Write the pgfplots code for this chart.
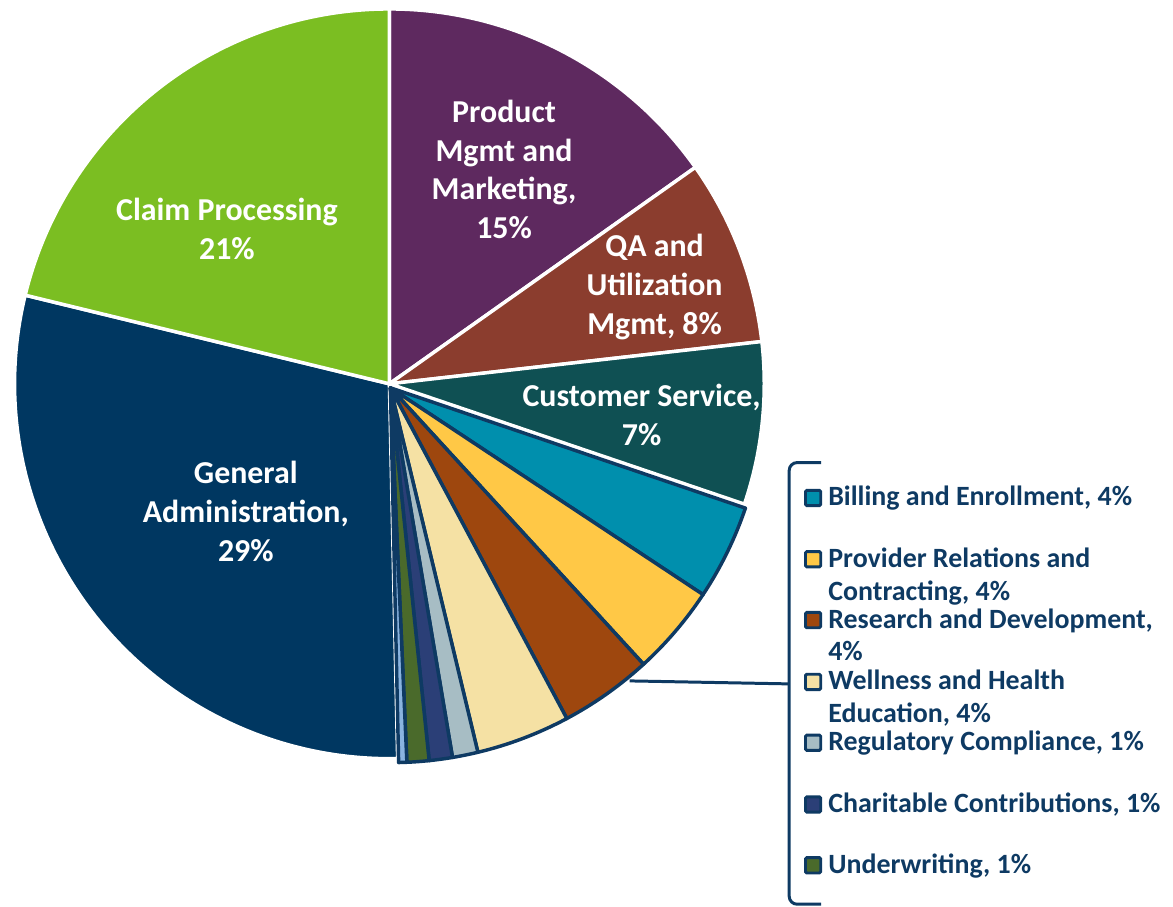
\documentclass[border=0pt]{standalone}
\usepackage{pgfplots}
\pgfplotsset{compat=1.18}
\usepackage{pgfplotstable}
\usepackage{fontspec}
\setmainfont{Carlito}

\definecolor{cClaim}{HTML}{7BBE22}
\definecolor{cProd}{HTML}{5E295F}
\definecolor{cQA}{HTML}{8B3D2E}
\definecolor{cCust}{HTML}{0F5053}
\definecolor{cBill}{HTML}{008FAD}
\definecolor{cProv}{HTML}{FFC846}
\definecolor{cRD}{HTML}{9E470E}
\definecolor{cWell}{HTML}{F5E1A4}
\definecolor{cReg}{HTML}{A7BDC4}
\definecolor{cChar}{HTML}{2B3F77}
\definecolor{cUnd}{HTML}{4A6A2B}
\definecolor{cOth}{HTML}{8AB4E0}
\definecolor{cGen}{HTML}{003761}
\definecolor{navy}{HTML}{0E3A63}

% share of admin cost in %, clockwise from 12 o'clock; edge=1 -> navy outline
\pgfplotstableread{
share  colour edge
15.2   cProd  0
8.0    cQA    0
7.0    cCust  0
4.1    cBill  1
3.9    cProv  1
4.0    cRD    1
4.05   cWell  1
1.1    cReg   1
1.0    cChar  1
0.95   cUnd   1
0.35   cOth   1
29.15  cGen   0
21.2   cClaim 0
}\piedata

% one wedge: start %, end %, fill, outline, centre
\newcommand\pieslice[5]{%
  \pgfmathsetmacro\aA{90-3.6*#1}%
  \pgfmathsetmacro\aB{90-3.6*#2}%
  \edef\doslice{\noexpand\filldraw[fill=#3,draw=#4,line width=2.6pt,line join=round]
    (axis cs:#5) -- ++(\aA:282pt) arc[start angle=\aA,end angle=\aB,radius=282pt] -- cycle;}%
  \doslice}

\newcommand\lbl{\fontsize{24}{29.25}\selectfont\bfseries}
\newcommand\leg{\fontsize{21}{24.75}\selectfont\bfseries\color{navy}}

\begin{document}
\begin{tikzpicture}
\begin{axis}[
    hide axis,
    x=0.75pt, y=0.75pt,
    xmin=0, xmax=1173, ymin=0, ymax=909,
    clip=false,
  ]
  % keep the whole canvas in the bounding box
  \path (axis cs:0,0) rectangle (axis cs:1173,909);

  \pgfplotstablegetrowsof{\piedata}
  \pgfmathtruncatemacro\lastrow{\pgfplotsretval-1}
  % pass 0: big wedges with white edges, pass 1: small ones, nudged out, navy edges
  \pgfplotsforeachungrouped \pass in {0,1}{%
    \def\cum{0}%
    \pgfplotsforeachungrouped \i in {0,...,\lastrow}{%
      \pgfplotstablegetelem{\i}{share}\of\piedata \let\v\pgfplotsretval
      \pgfplotstablegetelem{\i}{colour}\of\piedata \let\fc\pgfplotsretval
      \pgfplotstablegetelem{\i}{edge}\of\piedata \let\ec\pgfplotsretval
      \let\cA\cum
      \pgfmathsetmacro\cum{\cum+\v}%
      \ifnum\pass=0
        \ifnum\ec=0 \pieslice{\cA}{\cum}{\fc}{white}{387,524}\fi
      \else
        \ifnum\ec=1 \pieslice{\cA}{\cum}{\fc}{navy}{388,520}\fi
      \fi
    }%
  }

  % labels inside the pie
  \node[font=\lbl, align=center, text=white] at (axis cs:224,679) {Claim Processing\\21\%};
  \node[font=\lbl, align=center, text=white] at (axis cs:502,739) {Product\\Mgmt and\\Marketing,\\15\%};
  \node[font=\lbl, align=center, text=white] at (axis cs:653,621) {QA and\\Utilization\\Mgmt, 8\%};
  \node[font=\lbl, align=center, text=white] at (axis cs:640,493) {Customer Service,\\7\%};
  \node[font=\lbl, align=center, text=white] at (axis cs:243,396) {General\\Administration,\\29\%};

  % bracket legend for the small wedges
  \draw[navy, line width=2.25pt, rounded corners=6pt]
    (axis cs:820,445) -- (axis cs:788,445) -- (axis cs:788,2) -- (axis cs:820,2);
  \draw[navy, line width=2.25pt] (axis cs:628,226) -- (axis cs:788,223);

  \tikzset{legbox/.style={draw=navy, fill=#1, line width=2.2pt, minimum size=11.5pt,
      inner sep=0pt, rounded corners=1pt}}
  \node[legbox=cBill] at (axis cs:812,409.5) {};
  \node[legbox=cProv] at (axis cs:812,348) {};
  \node[legbox=cRD]   at (axis cs:812,287) {};
  \node[legbox=cWell] at (axis cs:812,225) {};
  \node[legbox=cReg]  at (axis cs:812,164) {};
  \node[legbox=cChar] at (axis cs:812,102) {};
  \node[legbox=cUnd]  at (axis cs:812,41) {};

  \tikzset{legtxt/.style={anchor=base west, inner sep=0pt, font=\leg}}
  \node[legtxt] at (axis cs:827,401.5) {Billing and Enrollment, 4\%};
  \node[legtxt] at (axis cs:827,340) {Provider Relations and};
  \node[legtxt] at (axis cs:827,307) {Contracting, 4\%};
  \node[legtxt] at (axis cs:827,279) {Research and Development,};
  \node[legtxt] at (axis cs:827,246) {4\%};
  \node[legtxt] at (axis cs:827,217) {Wellness and Health};
  \node[legtxt] at (axis cs:827,184) {Education, 4\%};
  \node[legtxt] at (axis cs:827,156) {Regulatory Compliance, 1\%};
  \node[legtxt] at (axis cs:827,94) {Charitable Contributions, 1\%};
  \node[legtxt] at (axis cs:827,33) {Underwriting, 1\%};
\end{axis}
\end{tikzpicture}
\end{document}
